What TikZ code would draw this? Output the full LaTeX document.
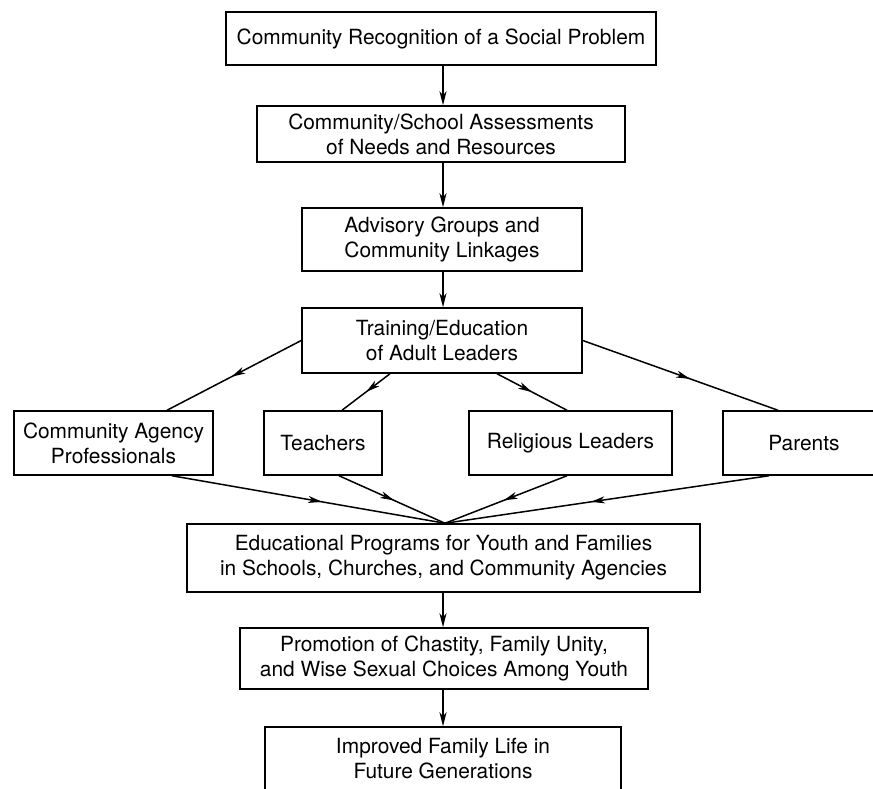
\documentclass[tikz,border=0pt]{standalone}
\usepackage{fontspec}
\setmainfont{TeX Gyre Heros}
\usetikzlibrary{arrows.meta,decorations.markings,positioning}

\begin{document}
\begin{tikzpicture}[x=1pt,y=-1pt,
    line width=1.5pt,>={Stealth[length=14pt,width=7pt,inset=4pt]},
    block/.style={rectangle,draw,line width=1.5pt,inner sep=0pt,align=center,
      font=\fontsize{20.9}{25}\selectfont},
    midtip/.style={postaction={decorate},decoration={markings,
      mark=at position #1 with {\arrow{>}}}}]
  \useasboundingbox (0,0) rectangle (873,789);
  \clip (0,0) rectangle (873,789);
  \coordinate (spine) at (443,0);

  % main column
  \node[block,minimum width=430pt,minimum height=53pt] (recognition) at (441,38.5)
    {Community Recognition of a Social Problem};
  \node[block,minimum width=368pt,minimum height=56pt] (assessment) at (441,134)
    {Community/School Assessments\\of Needs and Resources};
  \node[block,minimum width=280pt,minimum height=63pt] (advisory) at (442,239.5)
    {Advisory Groups and\\Community Linkages};
  \node[block,minimum width=280pt,minimum height=65pt] (training) at (442,340.5)
    {Training/Education\\of Adult Leaders};

  % adult leaders
  \node[block,minimum width=199pt,minimum height=64pt] (agency_prof) at (113.5,443)
    {Community Agency\\Professionals};
  \node[block,minimum width=118pt,minimum height=64pt] (teachers) at (323,443) {Teachers};
  \node[block,minimum width=203pt,minimum height=64pt] (rel_leaders) at (570.5,443) {Religious Leaders};
  \node[block,minimum width=162pt,minimum height=64pt] (parents) at (804,443) {Parents};

  \node[block,minimum width=513pt,minimum height=68pt] (edu_programs) at (443.5,558)
    {Educational Programs for Youth and Families\\in Schools, Churches, and Community Agencies};
  \node[block,minimum width=408pt,minimum height=61pt] (promotion) at (444,658.5)
    {Promotion of Chastity, Family Unity,\\and Wise Sexual Choices Among Youth};
  \node[block,minimum width=356pt,minimum height=63pt] (family_life) at (443,758.5)
    {Improved Family Life in\\Future Generations};
  \coordinate (apex) at ([xshift=1.5pt]edu_programs.north);

  \draw[->] (recognition.south -| spine) -- (assessment.north -| spine);
  \draw[->] (assessment.south -| spine) -- (advisory.north -| spine);
  \draw[->] (advisory.south -| spine) -- (training.north -| spine);

  \draw[midtip=0.52] (training.west) -- ([xshift=53.5pt]agency_prof.north);
  \draw[midtip=0.5] ([xshift=-52pt]training.south) -- ([xshift=19pt]teachers.north);
  \draw[midtip=0.5] ([xshift=55pt]training.south) -- ([xshift=-3.5pt]rel_leaders.north);
  \draw[midtip=0.55] (training.east) -- ([xshift=-26pt]parents.north);

  \draw[midtip=0.55] ([xshift=58.5pt]agency_prof.south) -- (apex);
  \draw[midtip=0.52] ([xshift=16pt]teachers.south) -- (apex);
  \draw[midtip=0.52] ([xshift=-3.5pt]rel_leaders.south) -- (apex);
  \draw[midtip=0.55] ([xshift=-35pt]parents.south) -- (apex);

  \draw[->] (edu_programs.south -| spine) -- (promotion.north -| spine);
  \draw[->] (promotion.south -| spine) -- (family_life.north -| spine);
\end{tikzpicture}
\end{document}
